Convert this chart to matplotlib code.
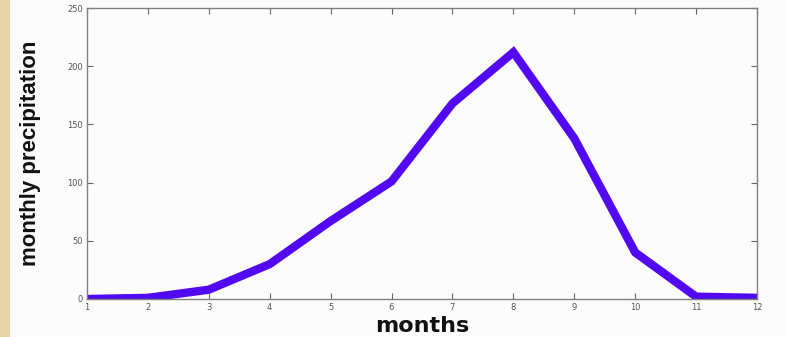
import matplotlib
matplotlib.use("Agg")
import matplotlib.pyplot as plt
from matplotlib.patches import Rectangle

months = [1, 2, 3, 4, 5, 6, 7, 8, 9, 10, 11, 12]
precip = [0, 1, 8, 30, 67, 101, 168, 212, 138, 40, 2, 1]
yticks = [0, 50, 100, 150, 200, 250]

fig = plt.figure(figsize=(7.86, 3.37), dpi=100)
fig.patch.set_facecolor("#fdfcfd")
fig.patches.append(Rectangle((0, 0), 10 / 786, 1, transform=fig.transFigure,
                             facecolor="#e6d3a6", edgecolor="none", zorder=0))

ax = fig.add_axes([87 / 786, (337 - 299) / 337, (757 - 87) / 786, (299 - 8) / 337])
ax.set_facecolor("#fdfcfd")
ax.plot(months, precip, color="#5208f0", linewidth=6, solid_joinstyle="miter")
ax.set_xlim(1, 12)
ax.set_ylim(0, 250)
ax.set_xticks(months)
ax.set_yticks(yticks)
ax.tick_params(direction="in", top=True, right=True, length=4, width=0.8,
               colors="#666666", labelsize=6, labelcolor="#555555", pad=3)
for s in ax.spines.values():
    s.set_color("#808080")
    s.set_linewidth(1.0)
ax.set_xlabel("months", fontsize=16, fontweight="bold", family="DejaVu Sans",
              color="#111111", va="baseline")
ax.xaxis.set_label_coords(0.5, -(332 - 299) / 291)
ax.set_ylabel("monthly precipitation", fontsize=16, fontweight="bold",
              family="Liberation Sans", color="#111111", va="center")
ax.yaxis.set_label_coords((31 - 87) / 670, 0.5)
fig.savefig("out.png", dpi=100, facecolor=fig.get_facecolor())
